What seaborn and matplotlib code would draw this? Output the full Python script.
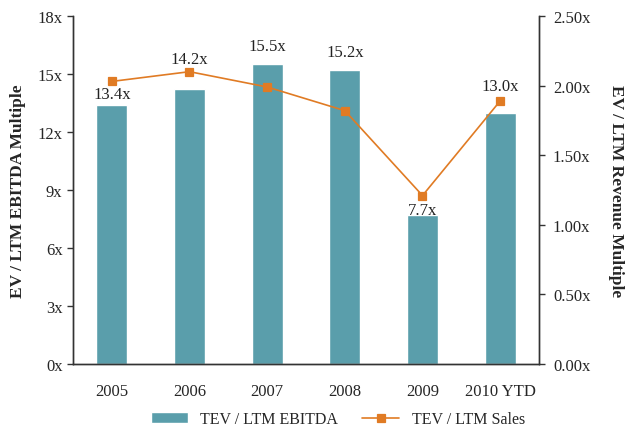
import pandas as pd
import matplotlib.pyplot as plt
import numpy as np
import seaborn as sns

sns.set_style("white")
plt.rcParams['font.family'] = ['Liberation Serif', 'DejaVu Serif']

years = ["2005", "2006", "2007", "2008", "2009", "2010 YTD"]
ebitda = [13.4, 14.2, 15.5, 15.2, 7.7, 13.0]
sales = [2.03, 2.10, 1.99, 1.82, 1.21, 1.89]
label_offsets = [3, 22, 10, 10, -3, 19]  # px above bar top, nudged to dodge the line

bar_color = "#5A9EAB"
line_color = "#E07B24"

df = pd.DataFrame({"Year": years, "EBITDA": ebitda, "Sales": sales})

fig = plt.figure(figsize=(6.26, 4.27), dpi=100)
ax = fig.add_axes([73 / 626, 1 - 365 / 427, 466 / 626, 348 / 427])
sns.barplot(data=df, x="Year", y="EBITDA", order=years, color=bar_color,
            width=0.4, saturation=1, ax=ax, label="TEV / LTM EBITDA")
ax.set_ylim(0, 18)
ax.set_yticks(np.arange(0, 19, 3))
ax.set_yticklabels([f"{int(v)}x" for v in np.arange(0, 19, 3)], fontsize=12)
ax.set_xlim(-0.5, len(years) - 0.5)
ax.set_xticks(range(len(years)))
ax.set_xticklabels(years, fontsize=12)
ax.set_xticks(np.arange(-0.5, len(years)), minor=True)
ax.tick_params(axis="x", which="major", length=0, pad=14)
ax.tick_params(axis="x", which="minor", length=5, width=1, direction="out", color="#333333")
ax.tick_params(axis="y", length=4, width=1, direction="out", color="#333333", left=True)
ax.set_xlabel("")
ax.set_ylabel("EV / LTM EBITDA Multiple", fontsize=12.5, fontweight="bold", labelpad=8)

for i, v in enumerate(ebitda):
    ax.annotate(f"{v:.1f}x", (i, v), xytext=(0, label_offsets[i]), textcoords="offset pixels",
                ha="center", va="bottom", fontsize=12, color="#222222")

ax2 = ax.twinx()
sns.pointplot(data=df, x="Year", y="Sales", order=years, color=line_color, markers="s",
              markersize=6, linewidth=1.2, ax=ax2, label="TEV / LTM Sales")
ax2.set_xlim(-0.5, len(years) - 0.5)
ax2.set_ylim(0, 2.5)
ax2.set_yticks(np.arange(0, 2.51, 0.5))
ax2.set_yticklabels([f"{v:.2f}x" for v in np.arange(0, 2.51, 0.5)], fontsize=12)
ax2.tick_params(axis="y", length=4, width=1, direction="out", color="#333333", right=True, pad=6)
ax2.set_ylabel("EV / LTM Revenue Multiple", fontsize=12.5, fontweight="bold", rotation=-90,
               labelpad=24)

for a in (ax, ax2):
    for side in ("left", "right", "bottom"):
        a.spines[side].set_color("#333333")
        a.spines[side].set_linewidth(1)
    a.spines["top"].set_visible(False)

h1, l1 = ax.get_legend_handles_labels()
h2, l2 = ax2.get_legend_handles_labels()
if ax2.get_legend():
    ax2.get_legend().remove()
if ax.get_legend():
    ax.get_legend().remove()
fig.legend(h1 + h2, l1 + l2, loc="lower center", bbox_to_anchor=(0.54, -0.037), ncol=2,
           frameon=False, fontsize=11.5, handlelength=2.3, columnspacing=1.5)

fig.savefig("out.png", dpi=100)
